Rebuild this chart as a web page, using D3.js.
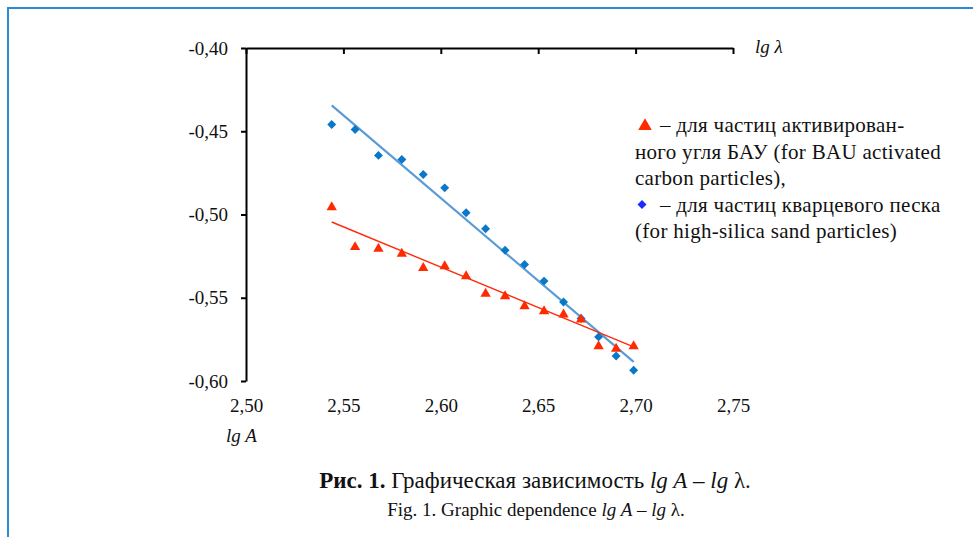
<!DOCTYPE html>
<html lang="ru">
	<head>
		<meta charset="UTF-8" />
		<script src="https://d3js.org/d3.v7.min.js"></script>
		<style>
			body { margin: 0; background: #fff; }
			svg text { font-family: "Liberation Serif", "Times New Roman", Times, serif !important; fill: #111; }
		</style>
	</head>
	<body>
		<div id="chart"></div>
		<script>
			// lg A values (shared by both series)
			var lgA = [2.544, 2.556, 2.568, 2.580, 2.591, 2.602, 2.613, 2.623, 2.633, 2.643, 2.653, 2.663, 2.672, 2.681, 2.690, 2.699];
			// lg lambda, high-silica sand (diamonds)
			var sandY = [-0.446, -0.449, -0.4645, -0.467, -0.476, -0.484, -0.499, -0.5085, -0.5215, -0.530, -0.540, -0.5525, -0.5625, -0.5735, -0.585, -0.5935];
			// lg lambda, BAU activated carbon (triangles)
			var carbonY = [-0.495, -0.519, -0.520, -0.523, -0.5315, -0.5305, -0.5365, -0.547, -0.5485, -0.5545, -0.5575, -0.5595, -0.5625, -0.5785, -0.580, -0.5785];
			// trend lines
			var sandTrend = [[2.544, -0.4345], [2.699, -0.5885]];
			var carbonTrend = [[2.544, -0.5045], [2.699, -0.5795]];
			var xTicks = [2.50, 2.55, 2.60, 2.65, 2.70, 2.75];
			var yTicks = [-0.40, -0.45, -0.50, -0.55, -0.60];
			var legendLines = [
				"– для частиц активирован-",
				"ного угля БАУ (for BAU activated",
				"carbon particles),",
				"– для частиц кварцевого песка",
				"(for high-silica sand particles)"
			];

			var width = 973, height = 537;
			var svg = d3.select("#chart").append("svg")
				.attr("width", width)
				.attr("height", height);

			// page frame
			svg.append("path")
				.attr("d", "M8,537V8H973")
				.attr("fill", "none")
				.attr("stroke", "#2b8ad0")
				.attr("stroke-width", 2);

			var x = d3.scaleLinear().domain([2.50, 2.75]).range([246, 733]);
			var y = d3.scaleLinear().domain([-0.60, -0.40]).range([381, 48]);
			var comma = function(d) { return d3.format(".2f")(d).replace(".", ",").replace("−", "-"); };

			// top axis line with ticks pointing down
			var gx = svg.append("g")
				.attr("transform", "translate(0," + y(-0.40) + ")")
				.call(d3.axisBottom(x).tickValues(xTicks).tickSize(6).tickSizeOuter(0).tickFormat(""));
			// labels under the plot
			var gxl = svg.append("g")
				.attr("transform", "translate(0," + y(-0.60) + ")")
				.call(d3.axisBottom(x).tickValues(xTicks).tickSize(0).tickPadding(18).tickFormat(comma));
			gxl.select(".domain").remove();

			var gy = svg.append("g")
				.attr("transform", "translate(" + x(2.50) + ",0)")
				.call(d3.axisLeft(y).tickValues(yTicks).tickSize(5).tickSizeOuter(0).tickPadding(13).tickFormat(comma));

			svg.selectAll("g").attr("font-family", null);
			svg.selectAll(".domain, .tick line")
				.attr("stroke", "#000")
				.attr("stroke-width", 2);
			svg.selectAll(".tick text")
				.attr("font-size", 19)
				.attr("fill", "#111");

			// axis titles
			svg.append("text")
				.attr("x", 755).attr("y", 53)
				.attr("font-size", 19).attr("font-style", "italic")
				.text("lg λ");
			svg.append("text")
				.attr("x", 226).attr("y", 442)
				.attr("font-size", 19).attr("font-style", "italic")
				.text("lg A");

			var line = d3.line()
				.x(function(d) { return x(d[0]); })
				.y(function(d) { return y(d[1]); });

			svg.append("path").datum(sandTrend)
				.attr("d", line)
				.attr("stroke", "#5b9bd5")
				.attr("stroke-width", 2.2)
				.attr("fill", "none");
			svg.append("path").datum(carbonTrend)
				.attr("d", line)
				.attr("stroke", "#ff2a0a")
				.attr("stroke-width", 1.4)
				.attr("fill", "none");

			// diamond = square turned 45 degrees
			var diamond = d3.symbol().type(d3.symbolSquare).size(40);
			var triangle = d3.symbol().type(d3.symbolTriangle).size(46);

			svg.selectAll(".sand").data(lgA).enter().append("path")
				.attr("class", "sand")
				.attr("d", diamond)
				.attr("fill", "#0a78c8")
				.attr("transform", function(d, i) { return "translate(" + x(d) + "," + y(sandY[i]) + ") rotate(45)"; });

			svg.selectAll(".carbon").data(lgA).enter().append("path")
				.attr("class", "carbon")
				.attr("d", triangle)
				.attr("fill", "#ff2a00")
				.attr("transform", function(d, i) { return "translate(" + x(d) + "," + (y(carbonY[i]) + 1) + ")"; });

			// legend
			var legend = svg.append("g").attr("transform", "translate(635,132)");
			legend.selectAll("text").data(legendLines).enter().append("text")
				.attr("x", function(d, i) { return (i === 0 || i === 3) ? 25 : 0; })
				.attr("y", function(d, i) { return i * 26.5; })
				.attr("font-size", 21)
				.attr("letter-spacing", 0.3)
				.text(function(d) { return d; });
			legend.append("path")
				.attr("d", d3.symbol().type(d3.symbolTriangle).size(80))
				.attr("fill", "#ff2a00")
				.attr("transform", "translate(10,-6)");
			legend.append("path")
				.attr("d", d3.symbol().type(d3.symbolSquare).size(40))
				.attr("fill", "#1c2cff")
				.attr("transform", "translate(7," + (3 * 26.5 - 7) + ") rotate(45)");

			// caption
			var cap1 = svg.append("text")
				.attr("x", 535).attr("y", 488)
				.attr("text-anchor", "middle")
				.attr("font-size", 23);
			cap1.append("tspan").attr("font-weight", "bold").text("Рис. 1.");
			cap1.append("tspan").text(" Графическая зависимость ");
			cap1.append("tspan").attr("font-style", "italic").text("lg A");
			cap1.append("tspan").text(" – ");
			cap1.append("tspan").attr("font-style", "italic").text("lg");
			cap1.append("tspan").text(" λ.");

			var cap2 = svg.append("text")
				.attr("x", 536).attr("y", 516)
				.attr("text-anchor", "middle")
				.attr("font-size", 19);
			cap2.append("tspan").text("Fig. 1. Graphic dependence ");
			cap2.append("tspan").attr("font-style", "italic").text("lg A");
			cap2.append("tspan").text(" – ");
			cap2.append("tspan").attr("font-style", "italic").text("lg");
			cap2.append("tspan").text(" λ.");
		</script>
	</body>
</html>
